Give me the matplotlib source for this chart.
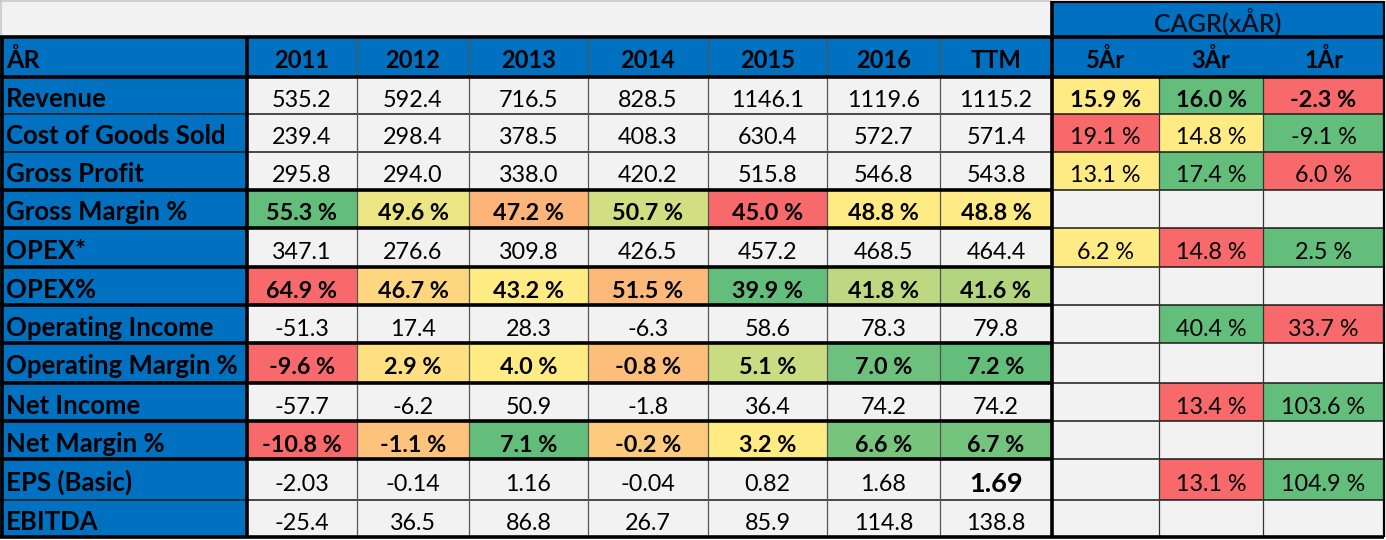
import numpy as np
import matplotlib.pyplot as plt
from matplotlib.patches import Rectangle
from matplotlib.colors import to_rgb

# --- data ---
years = ["2011", "2012", "2013", "2014", "2015", "2016", "TTM"]
periods = ["5År", "3År", "1År"]
row_labels = ["Revenue", "Cost of Goods Sold", "Gross Profit", "Gross Margin %",
              "OPEX*", "OPEX%", "Operating Income", "Operating Margin %",
              "Net Income", "Net Margin %", "EPS (Basic)", "EBITDA"]

revenue = [535.2, 592.4, 716.5, 828.5, 1146.1, 1119.6, 1115.2]
cogs = [239.4, 298.4, 378.5, 408.3, 630.4, 572.7, 571.4]
gross_profit = [295.8, 294.0, 338.0, 420.2, 515.8, 546.8, 543.8]
gross_margin = [55.3, 49.6, 47.2, 50.7, 45.0, 48.8, 48.8]
opex = [347.1, 276.6, 309.8, 426.5, 457.2, 468.5, 464.4]
opex_pct = [64.9, 46.7, 43.2, 51.5, 39.9, 41.8, 41.6]
op_income = [-51.3, 17.4, 28.3, -6.3, 58.6, 78.3, 79.8]
op_margin = [-9.6, 2.9, 4.0, -0.8, 5.1, 7.0, 7.2]
net_income = [-57.7, -6.2, 50.9, -1.8, 36.4, 74.2, 74.2]
net_margin = [-10.8, -1.1, 7.1, -0.2, 3.2, 6.6, 6.7]
eps = [-2.03, -0.14, 1.16, -0.04, 0.82, 1.68, 1.69]
ebitda = [-25.4, 36.5, 86.8, 26.7, 85.9, 114.8, 138.8]

cagr_revenue = [15.9, 16.0, -2.3]
cagr_cogs = [19.1, 14.8, -9.1]
cagr_gross_profit = [13.1, 17.4, 6.0]
cagr_opex = [6.2, 14.8, 2.5]
cagr_op_income = [None, 40.4, 33.7]
cagr_net_income = [None, 13.4, 103.6]
cagr_eps = [None, 13.1, 104.9]
empty = [None, None, None]

# (values, decimals, is_percent_row, reverse_scale)
main_rows = [
    (revenue, 1, False, False), (cogs, 1, False, False), (gross_profit, 1, False, False),
    (gross_margin, 1, True, False), (opex, 1, False, False), (opex_pct, 1, True, True),
    (op_income, 1, False, False), (op_margin, 1, True, False), (net_income, 1, False, False),
    (net_margin, 1, True, False), (eps, 2, False, False), (ebitda, 1, False, False),
]
# (values, reverse_scale)
cagr_rows = [
    (cagr_revenue, False), (cagr_cogs, True), (cagr_gross_profit, False), (empty, False),
    (cagr_opex, True), (empty, False), (cagr_op_income, False), (empty, False),
    (cagr_net_income, False), (empty, False), (cagr_eps, False), (empty, False),
]

# --- layout (pixels) ---
col_x = [0, 247, 357, 469, 588, 708, 827, 940, 1052, 1159, 1263, 1384]
row_y = [37, 77, 114, 152, 190, 228, 267, 305, 343, 383, 421, 459, 500, 537]

BLUE = "#0070c0"
CELL = "#f2f2f2"
RED, YEL, GRN = to_rgb("#f8696b"), to_rgb("#ffeb84"), to_rgb("#63be7b")
FONT = "Lato"
BASE = 11.5  # baseline offset below row centre


def scale_colors(vals, reverse=False):
    # excel style 3-colour scale: min red, median yellow, max green
    v = np.array([np.nan if x is None else x for x in vals], dtype=float)
    lo, mid, hi = np.nanmin(v), np.nanmedian(v), np.nanmax(v)
    bad, good = (GRN, RED) if reverse else (RED, GRN)
    out = []
    for x in v:
        if np.isnan(x):
            out.append(CELL)
            continue
        if x <= mid:
            t = 0 if mid == lo else (x - lo) / (mid - lo)
            a, b = bad, YEL
        else:
            t = (x - mid) / (hi - mid)
            a, b = YEL, good
        out.append(tuple(a[i] + (b[i] - a[i]) * t for i in range(3)))
    return out


fig = plt.figure(figsize=(13.86, 5.4), dpi=100)
ax = fig.add_axes([0, 0, 1, 1])
ax.set_xlim(0, 1386)
ax.set_ylim(540, 0)
ax.axis("off")
fig.patch.set_facecolor("white")


def cell(x0, x1, y0, y1, color):
    ax.add_patch(Rectangle((x0, y0), x1 - x0, y1 - y0, facecolor=color, edgecolor="none"))


def hline(y, x0, x1, lw, color="black"):
    ax.plot([x0, x1], [y, y], color=color, lw=lw, solid_capstyle="butt")


def vline(x, y0, y1, lw, color="black"):
    ax.plot([x, x], [y0, y1], color=color, lw=lw, solid_capstyle="butt")


# top strip
cell(0, col_x[8], 0, row_y[0], CELL)
hline(1, 0, col_x[8], 1.2, "#c8c8c8")
vline(1, 0, row_y[0], 1.2, "#c8c8c8")
cell(col_x[8], col_x[-1], 2, row_y[0], BLUE)
ax.text((col_x[8] + col_x[-1]) / 2, 31, "CAGR(xÅR)", ha="center", va="baseline",
        fontsize=18, family=FONT, fontweight="semibold", color="#0a0f1a")

# header row
cell(0, col_x[-1], row_y[0], row_y[1], BLUE)
ybase = (row_y[0] + row_y[1]) / 2 + 11
ax.text(6, ybase, "ÅR", ha="left", va="baseline", fontsize=18, family=FONT,
        fontweight="bold", color="black")
for j, lab in enumerate(years + periods):
    xc = (col_x[j + 1] + col_x[j + 2]) / 2
    ax.text(xc, ybase, lab, ha="center", va="baseline", fontsize=17, family=FONT,
            fontweight="bold", color="black")

# body
for i, lab in enumerate(row_labels):
    y0, y1 = row_y[i + 1], row_y[i + 2]
    yb = (y0 + y1) / 2 + BASE
    cell(0, col_x[1], y0, y1, BLUE)
    ax.text(6, yb, lab, ha="left", va="baseline", fontsize=18.5, family=FONT,
            fontweight="bold", color="black")

    vals, dec, pct, rev = main_rows[i]
    colors = scale_colors(vals, rev) if pct else [CELL] * len(vals)
    for j, v in enumerate(vals):
        x0, x1 = col_x[j + 1], col_x[j + 2]
        cell(x0, x1, y0, y1, colors[j])
        txt = f"{v:.{dec}f}" + (" %" if pct else "")
        big = lab == "EPS (Basic)" and years[j] == "TTM"
        ax.text((x0 + x1) / 2, yb + (1 if big else 0), txt, ha="center", va="baseline",
                fontsize=19.5 if big else 16.8, family=FONT,
                fontweight="bold" if (pct or big) else "normal", color="black")

    cvals, crev = cagr_rows[i]
    ccolors = scale_colors(cvals, crev) if any(v is not None for v in cvals) else [CELL] * 3
    for j, v in enumerate(cvals):
        x0, x1 = col_x[8 + j], col_x[9 + j]
        cell(x0, x1, y0, y1, ccolors[j])
        if v is not None:
            ax.text((x0 + x1) / 2, yb, f"{v:.1f} %", ha="center", va="baseline",
                    fontsize=16.8, family=FONT,
                    fontweight="bold" if i == 0 else "normal", color="black")

# grid lines
for k in range(len(row_y)):
    hline(row_y[k], 0, col_x[-1], 1.1, "#1a1a1a")
for x in col_x[2:8]:
    vline(x, row_y[0], row_y[-1], 0.9, "#555555")
for x in col_x[9:11]:
    vline(x, row_y[1], row_y[-1], 0.9, "#333333")

# thick borders
thick = 2.6
hline(row_y[0], 0, col_x[-1], thick)
hline(row_y[1], 0, col_x[-1], thick)
hline(row_y[-1], 0, col_x[-1], thick)
for i, (vals, dec, pct, rev) in enumerate(main_rows):
    if pct:
        hline(row_y[i + 1], 0, col_x[8], thick)
        hline(row_y[i + 2], 0, col_x[8], thick)
vline(1.5, row_y[0], row_y[-1], thick)
vline(col_x[1], row_y[0], row_y[-1], thick)
vline(col_x[8], 1, row_y[-1], thick)
vline(col_x[-1], 1, row_y[-1], 1.6)
hline(1.5, col_x[8], col_x[-1], 1.6)

fig.savefig("out.png", dpi=100, facecolor="white")
